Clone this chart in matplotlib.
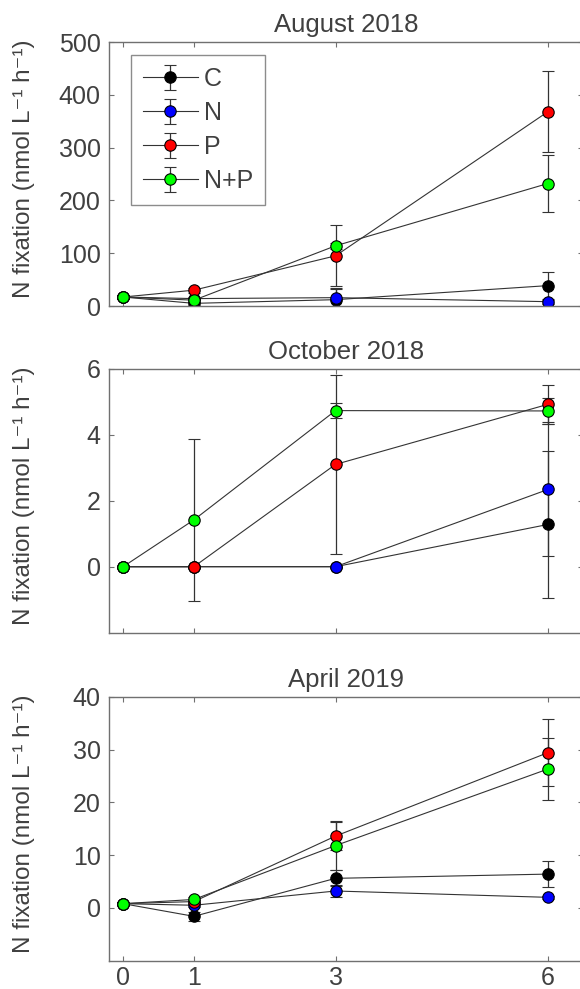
import matplotlib
matplotlib.use("Agg")
import matplotlib.pyplot as plt

plt.rcParams['font.family'] = ['Liberation Sans', 'DejaVu Sans']

days = [0, 1, 3, 6]
labels = ['C', 'N', 'P', 'N+P']
colors = ['#000000', '#0000ff', '#ff0000', '#00ff00']
titles = ['August 2018', 'October 2018', 'April 2019']

# August 2018
aug_C = [17, 5, 12, 38.6]
aug_C_err = [3, 3, 23, 25]
aug_N = [17, 14, 15.8, 8.2]
aug_N_err = [3, 3, 17, 4]
aug_P = [17, 30, 95, 368]
aug_P_err = [3, 5, 58, 77]
aug_NP = [17, 11, 114, 232]
aug_NP_err = [3, 3, 6, 54]

# October 2018
oct_C = [0, 0, 0, 1.28]
oct_C_err = [0, 0, 0, 2.22]
oct_N = [0, 0, 0, 2.34]
oct_N_err = [0, 0, 0, 2.03]
oct_P = [0, 0, 3.10, 4.92]
oct_P_err = [0, 0, 2.72, 0.6]
oct_NP = [0, 1.42, 4.73, 4.72]
oct_NP_err = [0, 2.46, 0.23, 0.4]

# April 2019
apr_C = [0.8, -1.6, 5.6, 6.4]
apr_C_err = [0.3, 0.8, 1.5, 2.5]
apr_N = [0.8, 0.5, 3.2, 2.0]
apr_N_err = [0.3, 0.3, 1.2, 0.3]
apr_P = [0.8, 1.2, 13.6, 29.4]
apr_P_err = [0.3, 0.3, 2.7, 6.3]
apr_NP = [0.8, 1.6, 11.8, 26.3]
apr_NP_err = [0.3, 0.4, 4.6, 5.95]

panels = [
    ([aug_C, aug_N, aug_P, aug_NP], [aug_C_err, aug_N_err, aug_P_err, aug_NP_err]),
    ([oct_C, oct_N, oct_P, oct_NP], [oct_C_err, oct_N_err, oct_P_err, oct_NP_err]),
    ([apr_C, apr_N, apr_P, apr_NP], [apr_C_err, apr_N_err, apr_P_err, apr_NP_err]),
]
ylims = [(0, 500), (-2, 6), (-10, 40)]
yticks = [[0, 100, 200, 300, 400, 500], [0, 2, 4, 6], [0, 10, 20, 30, 40]]

txt = '#404040'
edge = '#707070'

fig = plt.figure(figsize=(5.8, 9.89), dpi=100)
left = 109 / 580
width = (583.3 - 109) / 580
bottoms = [1 - 306 / 989, 1 - 632.7 / 989, 1 - 960.7 / 989]
height = 264 / 989

for k in range(3):
    ax = fig.add_axes([left, bottoms[k], width, height])
    vals, errs = panels[k]
    for i in range(4):
        ax.errorbar(days, vals[i], yerr=errs[i], color='#333333', lw=0.8,
                    ecolor='#333333', elinewidth=0.9, capsize=4, capthick=0.9,
                    marker='o', ms=8.2, mfc=colors[i], mec='black', mew=0.8,
                    label=labels[i])
    ax.set_xlim(-0.2, 6.5)
    ax.set_ylim(*ylims[k])
    ax.set_xticks(days)
    ax.set_yticks(yticks[k])
    if k == 2:
        ax.set_xticklabels([str(d) for d in days])
    else:
        ax.set_xticklabels([])
    ax.tick_params(direction='in', length=3.6, width=0.8, colors=edge,
                   labelcolor=txt, labelsize=18, top=True, right=True)
    ax.tick_params(axis='y', pad=6)
    ax.tick_params(axis='x', pad=4)
    for s in ax.spines.values():
        s.set_color(edge)
        s.set_linewidth(1.0)
    ax.set_title(titles[k], fontsize=18.5, color=txt, pad=7)
    ax.set_ylabel('N fixation (nmol L\u207b\u00b9 h\u207b\u00b9)', fontsize=17.5, color=txt)
    ax.yaxis.set_label_coords(-0.156, 0.52)
    if k == 0:
        leg = ax.legend(loc='upper left', bbox_to_anchor=(0.046, 0.951),
                        borderaxespad=0, fontsize=18, frameon=True, fancybox=False,
                        handlelength=2.2, handletextpad=0.25, labelspacing=0.4,
                        borderpad=0.48)
        leg.get_frame().set_edgecolor(edge)
        leg.get_frame().set_linewidth(1.0)
        for t in leg.get_texts():
            t.set_color(txt)

fig.savefig('out.png', dpi=100)
